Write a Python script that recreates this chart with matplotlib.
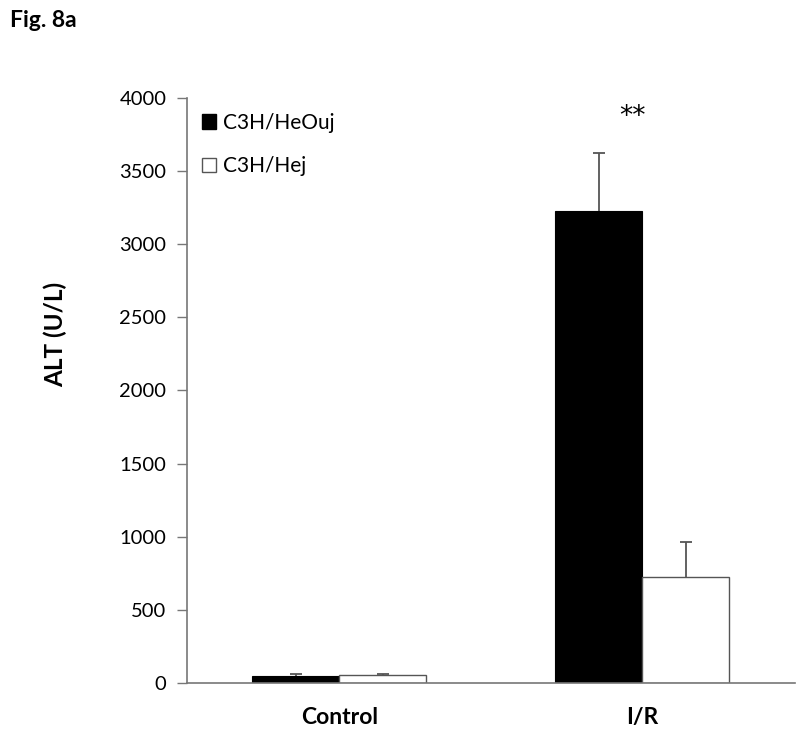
import matplotlib
matplotlib.use("Agg")
import matplotlib.pyplot as plt
from matplotlib.patches import Patch
import numpy as np

categories = ["Control", "I/R"]
series_names = ["C3H/HeOuj", "C3H/Hej"]
values_heouj = [50, 3226]
err_heouj = [14, 397]
values_hej = [57, 727]
err_hej = [4, 239]
yticks = [0, 500, 1000, 1500, 2000, 2500, 3000, 3500, 4000]

plt.rcParams['font.family'] = ['Lato', 'DejaVu Sans']

fig = plt.figure(figsize=(8, 7.31), dpi=100)
ax = fig.add_axes([0.234, 0.0657, 0.76, 0.8003])

x = np.arange(len(categories))
w = 0.287
gray = "#777777"
ecol = "#555555"
vh = np.array(values_heouj); eh = np.array(err_heouj)
vj = np.array(values_hej); ej = np.array(err_hej)
ax.bar(x - w/2, vh, w, color="black", edgecolor="black", linewidth=0.8, zorder=2)
ax.bar(x + w/2, vj, w, color="white", edgecolor=ecol, linewidth=1.0, zorder=2)
for xs, v, e in [(x - w/2, vh, eh), (x + w/2, vj, ej)]:
    ax.vlines(xs, v, v + e, colors=ecol, linewidth=1.3, zorder=3)
    ax.scatter(xs, v + e, marker="_", s=70, color=ecol, linewidths=1.3, zorder=3)

ax.set_xlim(-0.502, 1.505)
ax.set_ylim(0, 4000)
ax.set_yticks(yticks)
ax.set_yticklabels([str(t) for t in yticks], fontsize=14.5)
ax.set_xticks(x)
ax.set_xticklabels(categories, fontsize=16.5, fontweight="bold")
ax.tick_params(axis="x", length=0, pad=17)
ax.tick_params(axis="y", direction="out", length=7, color=gray, width=1, pad=8)
for s in ["top", "right"]:
    ax.spines[s].set_visible(False)
for s in ["left", "bottom"]:
    ax.spines[s].set_color(gray)
    ax.spines[s].set_linewidth(1.2)

ax.set_ylabel("ALT (U/L)", fontsize=17.5, fontweight="bold")
ax.yaxis.set_label_coords(-0.197, 0.595)

ax.text(1 - w/2 + 0.11, 3870, "**", ha="center", va="center", fontsize=19,
        family="DejaVu Sans")

handles = [Patch(facecolor="black", edgecolor="black"),
           Patch(facecolor="white", edgecolor="#555555")]
leg = ax.legend(handles, series_names, loc="upper left", bbox_to_anchor=(0.0, 1.0),
                frameon=False, fontsize=15, handlelength=0.7, handleheight=0.7,
                handletextpad=0.3, labelspacing=1.15, borderaxespad=0.3)

fig.text(0.012, 0.972, "Fig. 8a", fontsize=16.5, fontweight="bold", va="center", ha="left")

fig.savefig("out.png", dpi=100)
